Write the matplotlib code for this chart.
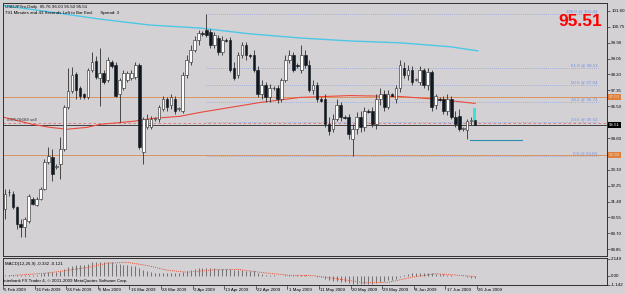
import matplotlib
matplotlib.use("Agg")
import matplotlib.pyplot as plt
from matplotlib.patches import Rectangle

# ---------------- data ----------------
opens = [91.02,91.92,91.82,91.12,90.22,90.06,90.38,91.55,91.23,91.55,92.08,93.51,93.78,93.25,93.41,94.21,
         96.44,97.29,98.24,97.50,97.13,96.97,98.45,98.93,98.03,98.30,97.92,98.88,98.72,97.13,97.50,97.92,
         98.03,98.08,98.72,94.05,95.37,
         95.37,95.80,95.80,96.33,96.86,96.54,96.91,96.33,96.22,98.19,98.88,99.52,100.05,100.42,100.58,100.47,
         99.78,100.15,99.41,100.05,100.05,98.56,98.19,99.25,99.78,99.25,99.25,98.45,97.13,97.66,96.97,97.50,
         97.50,96.86,97.92,98.98,99.25,98.72,98.45,99.25,98.72,97.39,97.66,96.86,96.86,95.53,95.27,95.80,
         96.59,95.90,95.90,94.74,95.27,95.90,95.37,96.22,96.22,95.53,96.86,97.13,96.44,97.13,96.86,97.50,
         98.56,98.19,98.45,97.92,97.82,98.45,97.66,98.35,96.59,96.90,96.86,96.22,96.86,95.90,95.96,95.30,
         95.21,95.69,95.76]
highs = [92.08,92.08,91.98,91.18,90.49,90.60,91.82,91.66,91.66,92.19,93.67,94.31,94.21,93.41,94.85,96.59,
         98.56,98.61,98.35,97.60,97.23,98.56,99.41,99.20,99.62,98.45,99.14,98.98,98.88,98.03,98.45,98.40,
         98.45,98.88,98.83,95.90,96.06,
         95.96,95.90,96.59,97.02,96.97,97.13,97.07,96.44,98.35,99.25,99.78,100.26,100.58,100.52,101.43,100.63,
         100.47,100.31,100.26,100.15,100.21,98.88,99.41,99.94,99.94,99.30,99.52,98.67,97.92,97.82,97.71,97.60,
         97.66,98.03,99.25,99.52,99.41,98.82,99.78,99.52,98.98,97.92,97.82,96.97,97.13,95.90,96.06,96.86,
         96.75,96.01,96.06,95.53,96.17,96.22,96.44,96.33,96.44,97.13,97.50,97.39,97.39,97.20,97.66,98.98,
         98.88,98.72,98.67,98.00,98.67,98.56,98.56,98.45,97.13,97.00,97.02,97.13,97.02,96.22,96.33,95.40,
         95.80,95.90,96.00]
lows = [90.49,91.71,91.02,89.96,89.53,89.53,90.28,91.23,91.18,91.50,92.03,93.41,92.51,93.14,92.61,94.10,
        96.33,97.23,96.86,96.91,96.86,96.86,98.35,97.98,96.49,97.71,97.82,98.56,96.97,95.64,97.39,97.82,
        97.92,97.98,94.21,93.41,95.27,
        95.27,95.69,95.64,96.22,96.22,96.33,96.06,96.22,96.12,98.03,98.72,99.41,99.78,100.26,100.21,99.62,
        99.62,99.25,99.25,99.94,98.35,97.92,98.03,99.09,98.98,99.09,98.35,96.97,96.86,96.75,96.70,97.39,
        96.65,96.70,97.82,98.82,98.35,98.56,98.29,98.56,97.28,97.13,96.70,96.75,95.37,94.95,95.11,95.69,
        95.69,95.80,94.74,93.84,95.00,95.11,95.16,96.12,95.37,95.27,96.59,96.22,96.33,97.02,96.65,97.28,
        98.03,97.92,97.66,97.85,97.66,97.50,97.39,96.22,96.33,96.80,96.06,96.01,95.80,95.37,95.16,95.20,
        94.74,95.48,95.50]
closes = [91.82,91.90,91.12,90.22,90.06,90.49,91.71,91.29,91.55,92.08,93.51,93.83,92.88,93.30,94.21,96.44,
          97.29,98.19,97.39,97.02,96.97,98.45,98.88,98.08,98.30,97.82,98.98,98.67,97.07,97.92,98.30,98.30,
          98.30,98.72,94.31,95.80,95.80,
          95.80,95.85,96.44,96.86,96.44,96.97,96.22,96.38,98.19,98.98,99.52,100.05,100.42,100.36,100.31,99.78,
          100.31,99.41,100.05,100.00,98.45,98.03,99.25,99.78,99.25,99.20,98.45,97.13,97.66,96.97,97.50,97.45,
          96.86,97.92,98.98,99.25,98.45,98.67,99.25,98.72,97.39,97.66,96.86,96.80,95.53,95.16,95.80,96.59,
          95.90,95.85,95.00,95.27,95.90,95.37,96.22,96.17,95.53,96.86,97.13,96.44,97.13,97.07,97.50,98.72,
          98.19,98.45,97.82,97.95,98.45,97.66,98.35,96.44,97.02,96.85,96.22,96.86,95.90,95.53,95.27,95.35,
          95.69,95.74,95.51]

date_labels = ["5 Feb 2009", "16 Feb 2009", "24 Feb 2009", "5 Mar 2009", "16 Mar 2009", "24 Mar 2009",
               "2 Apr 2009", "13 Apr 2009", "22 Apr 2009", "1 May 2009", "11 May 2009", "20 May 2009",
               "29 May 2009", "8 Jun 2009", "17 Jun 2009", "26 Jun 2009"]
date_label_bars = [0, 8, 16, 24, 32, 40, 48, 56, 64, 72, 80, 88, 96, 104, 112, 120]

# moving averages read at sampled bars
red_ma_bars = [-1.3, 7, 11.4, 15.7, 20.8, 24, 32.4, 37.5, 44.3, 49.4, 64.6, 74.7, 87.3, 100, 110, 119]
red_ma_vals = [95.96, 95.53, 95.37, 95.27, 95.37, 95.53, 95.69, 95.85, 95.96, 96.17, 96.70, 96.97, 97.07, 97.02, 96.86, 96.65]
cyan_ma_bars = [-1.3, 11.4, 24, 36.7, 49.4, 62, 74.7, 87.3, 100, 112.7, 119.7]
cyan_ma_vals = [101.91, 101.54, 101.16, 100.84, 100.68, 100.37, 100.15, 99.99, 99.89, 99.68, 99.46]

macd = [0.10,0.12,0.12,0.15,0.12,0.08,0.10,0.12,0.12,0.20,0.35,0.50,0.50,0.50,0.60,0.85,1.05,
        1.25,1.35,1.40,1.40,1.55,1.70,1.72,1.76,1.70,1.72,1.70,1.55,1.45,1.40,1.35,1.30,
        1.30,0.95,0.75,0.60,0.45,0.40,0.38,0.38,0.36,0.36,0.32,0.32,0.45,0.60,0.75,0.88,
        0.95,0.95,0.95,0.92,0.92,0.90,0.90,0.90,0.80,0.72,0.70,0.70,0.66,0.66,0.55,0.35,
        0.25,0.15,0.10,0.08,-0.02,0.02,0.10,0.15,0.12,0.10,0.12,0.10,0.00,-0.10,-0.20,-0.20,
        -0.40,-0.60,-0.70,-0.70,-0.80,-0.80,-0.95,-1.05,-1.10,-1.10,-1.05,-1.05,-1.00,-0.90,-0.75,-0.65,
        -0.55,-0.55,-0.45,-0.20,0.05,0.20,0.30,0.30,0.35,0.35,0.40,0.30,0.25,0.25,0.20,0.15,
        0.05,0.00,-0.10,-0.10,-0.20,-0.25,-0.332]
signal_bars = [1, 11, 21, 26, 31, 36, 41, 46, 53, 59, 66, 72, 78, 84, 91, 97, 103, 109, 115, 119]
signal_vals = [0.0, 0.35, 1.05, 1.6, 1.7, 1.3, 0.7, 0.45, 0.75, 0.8, 0.35, 0.05, 0.0, -0.4, -0.9, -0.85, -0.2, 0.25, 0.05, -0.121]

fib_levels = [101.43, 98.53, 97.64, 96.74, 95.63, 93.84]
fib_names = ["100.0", "61.8", "50.0", "38.2", "23.6", "0.0"]
fib_start_bar = 51
orange_levels = [97.00, 93.90]
orange_texts = ["97.00", "93.90"]
bid = 95.51
order_price = 95.60
cyan_seg_price = 94.69
cyan_box = (95.64, 96.43)
price_ticks = [101.60, 100.75, 99.90, 99.05, 98.20, 97.35, 96.50, 95.65, 94.80, 93.95, 93.10, 92.25, 91.40, 90.55, 89.70, 88.85]
hidden_tick_labels = [95.65, 93.95]   # covered by the boxed price labels

# ---------------- layout ----------------
W, H = 625, 294
BG = "#d4d1d5"
fig = plt.figure(figsize=(W / 100, H / 100), dpi=100, facecolor=BG)
FONT = "Liberation Sans"
FS = 3.2

def fx(px):
    return px / W

def fy(py):
    return 1 - py / H

ax = fig.add_axes([fx(3), fy(256), fx(604), 253 / H])
axm = fig.add_axes([fx(3), fy(285), fx(604), 27 / H])
for a in (ax, axm):
    a.set_facecolor(BG)
    for s in a.spines.values():
        s.set_color("#303030")
        s.set_linewidth(0.7)
    a.set_xticks([])
    a.tick_params(axis="y", which="both", left=False, right=True, labelleft=False, labelright=True,
                  length=2, width=0.5, color="#303030", pad=1, labelsize=FS)

XMIN, XMAX = -0.5, 152.4
ax.set_xlim(XMIN, XMAX)
axm.set_xlim(XMIN, XMAX)
ax.set_ylim(88.49, 102.02)
ax.set_yticks(price_ticks)
ax.set_yticklabels(["" if v in hidden_tick_labels else f"{v:.2f}" for v in price_ticks],
                   fontsize=FS, fontfamily=FONT)

n = len(closes)
xs = list(range(n))

# lines behind candles
for lv in orange_levels:
    ax.axhline(lv, color="#e0894a", lw=0.6, zorder=1)
ax.axhline(bid, color="#404040", lw=0.7, zorder=1)
ax.axhline(order_price, color="#e07070", lw=0.6, ls=(0, (3, 3)), zorder=1)
ax.text(0.5, order_price + 0.06, "#37576668 sell", fontsize=FS, fontfamily=FONT, color="#303030",
        ha="left", va="bottom", zorder=5)

for lv, nm in zip(fib_levels, fib_names):
    ax.plot([fib_start_bar, XMAX - 2.2], [lv, lv], color="#6f8fe0", lw=0.5, ls=(0, (1, 2)), zorder=1)
    ax.text(XMAX - 2.5, lv + 0.04, f"{nm} @ {lv:.2f}", fontsize=FS, fontfamily=FONT, color="#7090e0",
            ha="right", va="bottom", zorder=5)

ax.plot(cyan_ma_bars, cyan_ma_vals, color="#4cc8e6", lw=1.0, zorder=2)
ax.plot(red_ma_bars, red_ma_vals, color="#ea4a3c", lw=0.8, zorder=2)

# candles
for i in xs:
    o, h, l, c = opens[i], highs[i], lows[i], closes[i]
    ax.vlines(i, l, h, color="#303030", lw=0.6, zorder=3)
    bottom = min(o, c)
    height = max(abs(c - o), 0.03)
    if c >= o:
        ax.add_patch(Rectangle((i - 0.33, bottom), 0.66, height, facecolor="white", edgecolor="#202020",
                               lw=0.4, zorder=4))
    else:
        ax.add_patch(Rectangle((i - 0.33, bottom), 0.66, height, facecolor="#101820", edgecolor="#101820",
                               lw=0.4, zorder=4))

ax.add_patch(Rectangle((n - 1.6, cyan_box[0]), 0.8, cyan_box[1] - cyan_box[0], facecolor="#40e0d8",
                       edgecolor="none", zorder=3.5))
ax.plot([n - 2.3, n + 11], [cyan_seg_price, cyan_seg_price], color="#2a8fb0", lw=0.8, zorder=2)

# header texts
ax.text(0.004, 0.994, "USDJPYm,Daily  95.76 96.00 95.50 95.51", transform=ax.transAxes, fontsize=FS,
        fontfamily=FONT, color="black", ha="left", va="top")
ax.text(0.004, 0.968, "791 Minutes and 43 Seconds Left to Bar End.      Spread: 3", transform=ax.transAxes,
        fontsize=FS, fontfamily=FONT, color="black", ha="left", va="top")
ax.text((602 - 3) / 604, (256 - 21) / 253, "95.51", transform=ax.transAxes,
        fontsize=12.5, fontweight="bold", fontfamily=FONT, color="#ff0000", ha="right", va="center")

# axis labels with coloured boxes
def axis_box(a, val, txt, fc, tc):
    a.text(1.003, val, txt, transform=a.get_yaxis_transform(), fontsize=FS, fontfamily=FONT, color=tc,
           ha="left", va="center", zorder=10, clip_on=False,
           bbox=dict(boxstyle="square,pad=0.25", fc=fc, ec="none"))

for lv, t in zip(orange_levels, orange_texts):
    axis_box(ax, lv, t, "#e0803a", "#f6d6b8")
axis_box(ax, bid, f"{bid:.2f}", "#000000", "white")

# ---------------- MACD ----------------
axm.set_ylim(-1.19, 2.26)
axm.set_yticks([2.149, 0.0, -1.142])
axm.set_yticklabels(["2.149", "0.00", "-1.142"], fontsize=FS, fontfamily=FONT)
axm.vlines(xs, 0, macd, color="#707070", lw=0.7)
axm.plot(signal_bars, signal_vals, color="#e84a2a", lw=0.7, ls=(0, (1, 1.2)))
axm.text(0.003, 0.86, "MACD(12,26,9) -0.332 -0.121", transform=axm.transAxes, fontsize=FS, fontfamily=FONT,
         color="black", ha="left", va="top")
axm.text(0.0, 0.08, "Interbank FX Trader 4, \u00a9 2001-2009 MetaQuotes Software Corp.", transform=axm.transAxes,
         fontsize=FS, fontfamily=FONT, color="black", ha="left", va="bottom")

# date axis
for b, lab in zip(date_label_bars, date_labels):
    xpos = b - 0.5
    axm.plot([xpos, xpos], [-0.04, -0.16], transform=axm.get_xaxis_transform(), color="#303030", lw=0.5,
             clip_on=False)
    axm.text(xpos + 0.3, -0.12, lab, transform=axm.get_xaxis_transform(), fontsize=FS, fontfamily=FONT,
             color="black", ha="left", va="top", clip_on=False)

fig.savefig("out.png", dpi=100, facecolor=BG)
